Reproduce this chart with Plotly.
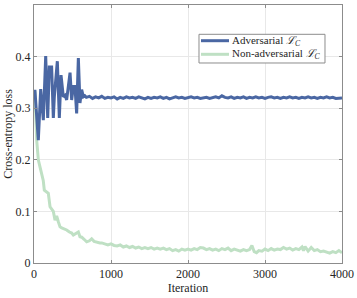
import plotly.graph_objects as go

# Adversarial L_C
adv_x = [0, 13, 56, 87, 121, 152, 178, 199, 229, 251, 264, 303, 329, 351, 381, 403, 424, 468, 489, 511, 532, 554, 576, 597, 619, 641, 660,
         680, 720, 760, 800, 840, 880, 920, 960, 1000, 1040, 1080, 1120, 1160, 1200, 1240, 1280, 1320, 1360, 1400, 1440, 1480, 1520,
         1560, 1600, 1640, 1680, 1720, 1760, 1800, 1840, 1880, 1920, 1960, 2000, 2040, 2080, 2120, 2160, 2200, 2240, 2280, 2320,
         2360, 2400, 2440, 2480, 2520, 2560, 2600, 2640, 2680, 2720, 2760, 2800, 2840, 2880, 2920, 2960, 3000, 3040, 3080, 3120,
         3160, 3200, 3240, 3280, 3320, 3360, 3400, 3440, 3480, 3520, 3560, 3600, 3640, 3680, 3720, 3760, 3800, 3840, 3880, 3920,
         3960, 4000]
adv_y = [0.333, 0.333, 0.238, 0.337, 0.277, 0.401, 0.281, 0.380, 0.380, 0.281, 0.322, 0.391, 0.281, 0.364, 0.322, 0.325, 0.316,
         0.369, 0.316, 0.342, 0.342, 0.290, 0.397, 0.310, 0.336, 0.322, 0.324,
         0.321, 0.323, 0.319, 0.322, 0.320, 0.323, 0.319, 0.321, 0.320, 0.322, 0.318, 0.321, 0.319, 0.322, 0.320, 0.321, 0.319,
         0.322, 0.320, 0.318, 0.321, 0.319, 0.321, 0.320, 0.322, 0.319, 0.321, 0.318, 0.320, 0.322, 0.320, 0.321, 0.319, 0.320,
         0.322, 0.320, 0.321, 0.319, 0.320, 0.321, 0.319, 0.320, 0.322, 0.320, 0.324, 0.321, 0.320, 0.322, 0.319, 0.321, 0.320,
         0.322, 0.319, 0.321, 0.320, 0.322, 0.320, 0.321, 0.319, 0.321, 0.322, 0.320, 0.321, 0.319, 0.321, 0.320, 0.322, 0.320,
         0.321, 0.319, 0.321, 0.320, 0.322, 0.320, 0.321, 0.319, 0.321, 0.320, 0.322, 0.320, 0.321, 0.319, 0.320, 0.320]

# Non-adversarial L_C
nadv_x = [0, 13, 35, 56, 80, 100, 120, 134, 160, 186, 208, 230, 251, 273, 294, 316, 338, 360, 390, 424, 460, 490, 511, 540,
          576, 597, 620, 650, 684, 720, 749, 780, 820, 857,
          880, 920, 960, 1000, 1040, 1080, 1120, 1160, 1200, 1240, 1280, 1320, 1360, 1400, 1440, 1480, 1520, 1560, 1600, 1640,
          1680, 1720, 1760, 1800, 1840, 1880, 1920, 1960, 2000, 2040, 2080, 2120, 2160, 2200, 2240, 2280, 2320, 2360, 2400,
          2440, 2480, 2520, 2560, 2600, 2640, 2680, 2720, 2760, 2800, 2830, 2860, 2890, 2920, 2960, 3000, 3040, 3080, 3120,
          3160, 3200, 3240, 3280, 3320, 3360, 3400, 3440, 3480, 3500, 3520, 3560, 3600, 3640, 3680, 3720, 3760, 3800, 3840,
          3880, 3920, 3960, 4000]
nadv_y = [0.330, 0.330, 0.238, 0.200, 0.185, 0.174, 0.160, 0.141, 0.138, 0.135, 0.109, 0.104, 0.100, 0.083, 0.091, 0.080,
          0.070, 0.068, 0.066, 0.064, 0.060, 0.058, 0.054, 0.056, 0.060, 0.051, 0.050, 0.046, 0.041, 0.043, 0.047, 0.042,
          0.040, 0.039,
          0.039, 0.037, 0.035, 0.037, 0.034, 0.033, 0.035, 0.031, 0.033, 0.030, 0.032, 0.029, 0.031, 0.028, 0.030, 0.028,
          0.030, 0.027, 0.029, 0.027, 0.029, 0.026, 0.028, 0.024, 0.026, 0.023, 0.027, 0.025, 0.027, 0.025, 0.028, 0.026,
          0.030, 0.029, 0.026, 0.028, 0.025, 0.027, 0.024, 0.028, 0.026, 0.029, 0.024, 0.027, 0.025, 0.023, 0.026, 0.024,
          0.026, 0.034, 0.022, 0.020, 0.024, 0.023, 0.027, 0.024, 0.028, 0.025, 0.027, 0.026, 0.030, 0.027, 0.029, 0.025,
          0.028, 0.026, 0.031, 0.024, 0.032, 0.023, 0.030, 0.024, 0.026, 0.022, 0.023, 0.021, 0.019, 0.022, 0.020, 0.024,
          0.020]

series_names = ["Adversarial <i>ℒ</i><sub><i>C</i></sub>", "Non-adversarial <i>ℒ</i><sub><i>C</i></sub>"]
series_colors = ["#4a67a3", "#bfe0c4"]

x_ticks = [0, 1000, 2000, 3000, 4000]
y_ticks = [0, 0.1, 0.2, 0.3, 0.4, 0.5]
y_tick_labels = ["0", "0.1", "0.2", "0.3", "0.4", "0.5"]

FONT = "Liberation Serif"

fig = go.Figure()
fig.add_trace(go.Scatter(x=nadv_x, y=nadv_y, mode="lines", name=series_names[1],
                         line=dict(color=series_colors[1], width=3)))
fig.add_trace(go.Scatter(x=adv_x, y=adv_y, mode="lines", name=series_names[0],
                         line=dict(color=series_colors[0], width=3)))

axis_common = dict(
    showline=True, linecolor="#8c8c8c", linewidth=1, mirror="ticks",
    ticks="inside", ticklen=3, tickcolor="#8c8c8c",
    showgrid=True, gridcolor="#e8e8e8", gridwidth=1, zeroline=False,
    automargin=False,
    tickfont=dict(family=FONT, size=12, color="#262626"),
)

# compact legend box (paper coordinates of the plot area)
shapes = [dict(type="rect", xref="paper", yref="paper", x0=0.5357, x1=0.9448, y0=0.7752, y1=0.8864,
               line=dict(color="#8c8c8c", width=1), fillcolor="white", layer="above")]
annotations = []
row_y = [0.8616, 0.8089]
for name, color, yy in zip(series_names, series_colors, row_y):
    shapes.append(dict(type="line", xref="paper", yref="paper", x0=0.5422, x1=0.6331, y0=yy, y1=yy,
                       line=dict(color=color, width=3), layer="above"))
    annotations.append(dict(xref="paper", yref="paper", x=0.6364, y=yy, xanchor="left", yanchor="middle",
                            text=name, showarrow=False,
                            font=dict(family=FONT, size=11, color="#262626")))

fig.update_layout(
    width=357, height=298,
    margin=dict(l=34, r=15, t=5, b=35, autoexpand=False),
    paper_bgcolor="white", plot_bgcolor="white",
    font=dict(family=FONT, size=12, color="#262626"),
    xaxis=dict(range=[0, 4000], tickvals=x_ticks,
               title=dict(text="Iteration", font=dict(family=FONT, size=12), standoff=0),
               **axis_common),
    yaxis=dict(range=[0, 0.5], tickvals=y_ticks, ticktext=y_tick_labels,
               title=dict(text="Cross-entropy loss", font=dict(family=FONT, size=12), standoff=0),
               **axis_common),
    showlegend=False,
    shapes=shapes,
    annotations=annotations,
)

fig.write_html("out.html", config={"displayModeBar": False},
               post_script="document.body.style.margin='0';document.body.style.padding='0';")
